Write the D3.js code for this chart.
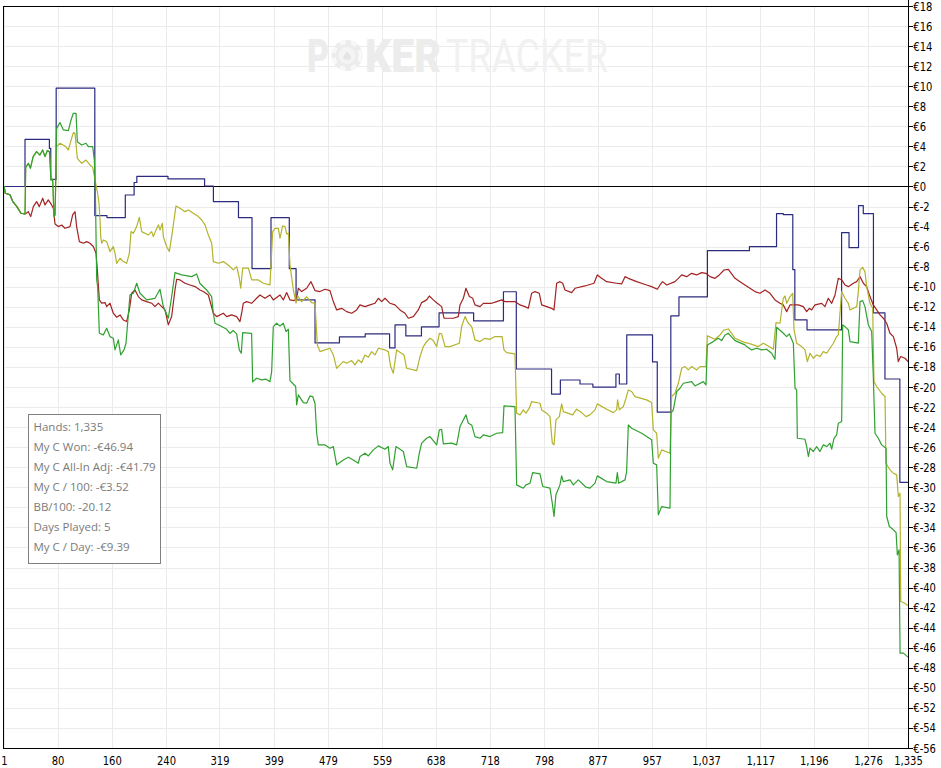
<!DOCTYPE html>
<html>
<head>
<meta charset="utf-8">
<script src="https://cdn.jsdelivr.net/npm/d3@7"></script>
<style>
  html, body { margin: 0; padding: 0; background: #fff; }
  svg { display: block; }
  .axis text { font-family: "DejaVu Sans", sans-serif; font-size: 12.5px; fill: #000; }
  .axis path, .axis line { stroke: #000; shape-rendering: crispEdges; }
  .grid line { stroke: #ebebeb; shape-rendering: crispEdges; }
  .series { fill: none; stroke-width: 1.2; stroke-linejoin: round; }
  .stats text { font-family: "Open Sans", "Noto Sans", sans-serif; font-size: 11.5px; fill: #7a7a7a; }
  .wm { font-family: Roboto, "Open Sans", sans-serif; font-size: 46px; }
</style>
</head>
<body>
<svg id="chart" width="941" height="768"></svg>
<script>
// hands axis
const handTicks = [1, 80, 160, 240, 319, 399, 479, 559, 638, 718, 798, 877, 957, 1037, 1117, 1196, 1276, 1335]
const moneyTicks = d3.range(-56, 19, 2)

// summary box
const statLines = [
  'Hands: 1,335',
  'My C Won: -€46.94',
  'My C All-In Adj: -€41.79',
  'My C / 100: -€3.52',
  'BB/100: -20.12',
  'Days Played: 5',
  'My C / Day: -€9.39'
]

// [hand, €]
const blueSeries = [
  [1,0],[32,4.7],[68,3.8],[70,0.7],[78,9.8],[135,-2.9],[153,-3.1],[180,-0.85],[193,0.4],[197,1.0],
  [243,0.75],[297,0.05],[310,-1.5],[347,-3.1],[367,-8.2],[395,-3.1],[422,-8.2],[432,-11.3],[460,-15.6],
  [496,-15.0],[534,-14.7],[570,-16.1],[578,-13.8],[594,-14.9],[617,-14.0],[643,-12.6],[694,-13.4],
  [738,-10.5],[757,-18.2],[809,-20.7],[822,-19.3],[851,-19.7],[870,-20.0],[904,-18.7],[909,-19.7],
  [920,-14.8],[958,-17.5],[965,-22.5],[985,-12.9],[997,-11.0],[1039,-6.4],[1101,-6.0],[1141,-2.7],
  [1151,-2.8],[1165,-8.3],[1168,-13.3],[1186,-14.3],[1237,-4.6],[1248,-6.1],[1262,-1.9],[1269,-2.7],
  [1284,-12.6],[1301,-19.2],[1323,-29.5],[1335,-29.5]
]

const greenSeries = [
  [1,0],[3,-0.68],[10,-0.84],[14,-1.51],[20,-2.01],[26,-2.67],[32,-2.74],[33,1.91],[37,2.31],[40,1.81],
  [44,2.98],[49,3.48],[54,3.14],[58,3.64],[61.5,2.98],[65,3.58],[68,3.48],[70.4,0.65],[72.8,0.72],
  [74.8,-3.0],[76.3,-2.84],[78.7,5.8],[83.6,6.37],[88.6,5.64],[96,5.57],[99.9,6.63],[103.3,7.3],
  [107.3,7.3],[109.2,4.47],[115.6,4.14],[122,4.31],[125.5,3.97],[131.9,3.97],[134.3,2.64],[135.8,-0.35],
  [137.8,-9.32],[139.2,-9.98],[141.7,-14.63],[147.6,-14.8],[152.5,-14.14],[157.4,-14.97],[162.3,-15.13],
  [164.8,-16.3],[169.7,-15.3],[173.2,-16.79],[178.1,-16.3],[181,-15.63],[186.9,-10.81],[191.9,-10.65],
  [196.8,-9.65],[201.7,-10.65],[211.5,-11.31],[223.8,-11.15],[231.2,-10.25],[236.1,-11.98],[243.5,-13.14],
  [248.4,-10.98],[253.3,-8.59],[263.2,-8.82],[278,-8.99],[285.3,-8.72],[290,-9.65],[300,-10.32],
  [307.4,-10.98],[309.9,-12.64],[312.3,-13.64],[322.2,-13.97],[329.6,-14.24],[334.5,-14.64],[339.4,-14.37],
  [344.3,-14.7],[348.2,-16.3],[351.2,-16.63],[353.2,-14.57],[366.4,-14.64],[367.9,-19.49],[373.8,-19.12],
  [381.2,-19.29],[387.6,-19.22],[393.5,-19.46],[396,-18.46],[398.4,-13.97],[403.3,-13.64],[408.3,-13.91],
  [413.2,-13.64],[417.1,-14.47],[420.6,-14.24],[423,-19.36],[431.4,-19.95],[432.9,-21.78],[435.3,-20.79],
  [442.7,-21.55],[447.6,-21.62],[452.5,-20.89],[456.5,-20.95],[459.9,-21.62],[462.4,-24.61],[464.8,-25.77],
  [474.7,-25.77],[482,-26.1],[487,-25.94],[491.9,-27.76],[501.7,-27.27],[509.1,-27.0],[516.5,-27.27],
  [523.9,-27.6],[526.3,-26.93],[533.7,-26.6],[538.6,-26.87],[546,-26.27],[553.4,-25.87],[563.2,-26.2],
  [568.1,-25.94],[570.6,-27.6],[574.5,-28.26],[579.4,-25.94],[590.3,-26.43],[595.2,-27.93],[610,-28.1],
  [613.9,-26.6],[617.3,-25.6],[624.7,-25.11],[629.6,-24.94],[639.5,-25.77],[643.4,-24.27],[646.8,-24.21],
  [649.3,-25.67],[661.6,-25.6],[669,-25.77],[673.9,-23.94],[678.8,-23.28],[682.7,-22.78],[686.2,-23.61],
  [691.1,-23.78],[696,-24.94],[703.4,-25.11],[708.3,-24.77],[718.2,-24.94],[728,-24.61],[736.9,-24.54],
  [738.8,-21.88],[755,-21.95],[757.5,-29.76],[767.3,-30.09],[771.3,-29.76],[777.2,-29.59],[781.1,-28.53],
  [791.9,-28.66],[795.9,-29.92],[806.7,-30.09],[810.1,-31.59],[812.6,-32.91],[815.5,-30.75],[821.4,-29.76],
  [823.9,-28.86],[826.4,-29.43],[836.2,-29.26],[841.1,-29.76],[848.5,-29.26],[859.8,-29.99],[865.7,-30.09],
  [873.1,-29.59],[876.5,-28.86],[890.3,-29.43],[904.1,-29.59],[906.1,-28.53],[908,-29.59],[917.4,-29.26],
  [919.8,-28.43],[922.3,-23.78],[927.2,-24.11],[942,-24.61],[956.7,-25.27],[959.2,-27.6],[964.1,-27.76],
  [966.6,-32.75],[971.5,-31.92],[983.8,-32.08],[985.2,-22.61],[988.7,-22.28],[993.6,-20.45],[998.5,-20.12],
  [1003.5,-19.62],[1015.7,-19.46],[1020.7,-19.89],[1033,-19.46],[1036.9,-19.79],[1038.9,-15.8],
  [1047.7,-15.47],[1055.1,-15.14],[1060,-15.37],[1065,-14.81],[1069.9,-14.64],[1079.7,-15.37],
  [1094.4,-15.8],[1096.9,-15.97],[1104.3,-16.3],[1111.7,-16.13],[1119.1,-16.3],[1126.4,-16.23],
  [1133.8,-16.63],[1138.7,-17.23],[1141.2,-14.04],[1151,-14.64],[1156,-14.97],[1159.9,-14.7],
  [1165.8,-15.63],[1168.3,-20.12],[1170.7,-20.29],[1171.7,-25.11],[1183,-25.21],[1185.5,-25.94],
  [1188,-26.93],[1190.4,-26.1],[1195.3,-26.43],[1200.2,-25.94],[1205.1,-26.43],[1210,-25.77],[1215,-25.94],
  [1219.9,-25.6],[1222.4,-26.2],[1225.8,-25.11],[1229.7,-24.77],[1232.2,-23.61],[1237.1,-23.44],
  [1238.6,-13.81],[1242,-13.97],[1247,-14.3],[1249.4,-15.47],[1261.7,-15.63],[1264.2,-11.48],
  [1268.1,-11.38],[1271.5,-11.98],[1276.5,-13.81],[1281.4,-14.47],[1283.8,-18.96],[1286.3,-24.61],
  [1291.2,-25.11],[1296.1,-25.77],[1302.6,-26.1],[1303.6,-32.91],[1307.5,-33.91],[1313.4,-34.24],
  [1317.4,-34.51],[1319.3,-36.74],[1321.8,-36.24],[1323.3,-46.54],[1328.2,-46.54],[1335,-46.94]
]

const yellowSeries = [
  [1,0],[3,-0.68],[10,-0.84],[14,-1.51],[20,-2.01],[26,-2.67],[32,-2.74],[33,1.91],[37,2.31],[40,1.81],
  [44,2.98],[49,3.48],[54,3.14],[58,3.64],[61.5,2.98],[65,3.58],[68,3.48],[70.4,0.65],[72.8,0.72],
  [74.8,-3.0],[76.3,-2.84],[78.7,3.97],[83.6,4.31],[91,4.04],[96,3.64],[99.4,4.47],[103.3,5.37],
  [105.8,5.3],[109.2,2.81],[115.6,2.31],[122,2.64],[127.9,2.15],[131.9,1.91],[135.3,0.65],[138.7,-0.51],
  [141.2,-1.67],[142.7,-3.34],[143.7,-5.0],[145.1,-5.66],[147.6,-5.33],[152.5,-5.5],[157.4,-6.49],
  [162.3,-5.99],[164.8,-6.66],[167.3,-7.66],[172.2,-7.16],[177.1,-7.49],[182,-7.66],[186,-6.66],
  [188.4,-4.5],[191.9,-4.67],[196.8,-4.0],[200.7,-3.07],[204.2,-4.5],[214,-4.83],[218.9,-4.5],[221.4,-5.0],
  [225.3,-4.33],[228.8,-3.83],[231.2,-4.33],[234.7,-3.67],[236.1,-5.0],[241,-5.99],[245,-6.49],[248.4,-5.0],
  [251.9,-3.34],[254.8,-1.94],[260.7,-2.17],[268.1,-2.51],[273,-2.34],[280.4,-2.67],[287.8,-3.0],
  [292.7,-3.34],[297.6,-3.83],[302.5,-4.83],[307.5,-5.66],[309.9,-7.49],[317.3,-7.66],[324.7,-7.49],
  [334.5,-7.99],[339.4,-8.32],[344.4,-7.99],[348.3,-9.15],[350.3,-10.15],[353.2,-8.15],[361.6,-8.15],
  [366.5,-9.32],[376.3,-9.32],[383.7,-9.65],[393.5,-9.82],[397.5,-4.5],[400.9,-4.17],[405.8,-4.17],
  [408.3,-5.16],[412.2,-3.93],[415.7,-4.0],[418.1,-4.73],[420.6,-4.67],[423,-7.82],[428,-10.32],
  [431.9,-11.64],[434.3,-10.9],[440,-11.5],[447.6,-11.0],[455,-11.58],[459.9,-11.65],[463.4,-15.8],
  [467.3,-16.47],[474.7,-16.3],[482,-16.13],[487,-16.8],[491.9,-18.13],[496.8,-17.79],[501.7,-17.46],
  [506.6,-17.63],[514,-17.36],[518.9,-17.79],[523.9,-17.3],[528.8,-17.56],[533.7,-16.8],[538.6,-17.03],
  [543.5,-16.47],[548.4,-16.8],[553.4,-16.13],[563.2,-16.3],[568.1,-16.47],[571.6,-17.96],[575.5,-18.63],
  [580.4,-16.3],[591.2,-16.8],[595.2,-18.13],[610,-18.36],[614.9,-16.96],[619.8,-15.97],[624.7,-15.47],
  [629.6,-15.14],[634.5,-15.37],[639.5,-15.97],[643.4,-14.64],[646.8,-14.7],[651.8,-15.97],[659.1,-15.97],
  [672.9,-15.63],[676.3,-13.97],[681.3,-12.98],[686.2,-13.64],[691.1,-13.97],[696,-15.3],[703.4,-15.47],
  [710.8,-15.14],[718.2,-15.24],[725.5,-14.97],[736,-14.97],[738.8,-16.3],[742.7,-16.57],[755,-16.7],
  [757.5,-22.61],[762.4,-22.78],[767.3,-22.28],[771.3,-22.61],[776.2,-22.11],[779.6,-21.45],[791.9,-21.62],
  [794.4,-22.28],[801.8,-22.61],[806.7,-22.95],[810.1,-25.6],[812.6,-25.77],[815.5,-23.28],[820.5,-22.95],
  [823.9,-21.68],[826.4,-22.45],[840.1,-22.78],[846,-22.21],[853.4,-22.55],[859.8,-22.95],[865.7,-22.78],
  [873.1,-22.28],[876.5,-21.68],[890.3,-22.21],[900.1,-22.55],[905,-22.28],[906.5,-21.28],[909,-22.28],
  [914.9,-21.95],[918.8,-21.12],[922.3,-20.29],[927.2,-20.45],[932.1,-20.95],[949.3,-21.28],[956.7,-21.55],
  [959.2,-24.28],[964.1,-24.61],[966.6,-27.1],[971.5,-26.27],[983.8,-26.6],[986.2,-20.95],[991.1,-20.62],
  [996.1,-19.62],[1001,-18.13],[1005.9,-17.96],[1010.8,-18.29],[1015.7,-17.96],[1023.1,-18.29],
  [1028,-17.96],[1036.9,-17.96],[1038.9,-14.9],[1050.2,-15.24],[1057.6,-14.81],[1063.5,-14.31],
  [1069.9,-14.21],[1074.8,-14.64],[1079.7,-15.14],[1094.4,-15.57],[1099.4,-15.63],[1106.8,-15.8],
  [1114.1,-15.97],[1121.5,-15.63],[1128.9,-15.9],[1136.3,-16.23],[1140.2,-13.57],[1146.1,-13.64],
  [1151,-11.15],[1153.5,-10.92],[1156,-11.65],[1160.9,-10.98],[1164.8,-10.65],[1166.8,-14.31],
  [1170.7,-15.63],[1178.1,-15.97],[1183,-16.3],[1186.5,-17.46],[1190.4,-16.63],[1195.3,-17.13],
  [1200.2,-16.8],[1205.1,-16.96],[1210,-16.47],[1215,-16.63],[1219.9,-16.13],[1224.8,-15.63],
  [1229.7,-14.97],[1232.2,-14.8],[1237.1,-10.48],[1242,-11.15],[1247,-11.65],[1249.4,-12.31],
  [1259.3,-11.98],[1261.7,-10.48],[1264.2,-8.32],[1268.1,-8.06],[1271.5,-8.49],[1274,-9.99],
  [1278.9,-11.65],[1282.9,-12.15],[1284.8,-19.46],[1288.8,-19.95],[1296.1,-20.62],[1301.1,-20.95],
  [1302.5,-27.6],[1308.4,-28.26],[1313.4,-28.59],[1318.3,-28.76],[1320.7,-30.92],[1323.2,-30.59],
  [1324.3,-41.39],[1328.2,-41.49],[1335,-41.79]
]

const redSeries = [
  [1,0],[3,-0.68],[10,-0.84],[14,-1.51],[20,-2.01],[26,-2.67],[32,-2.74],[36.9,-2.51],[40.4,-3.0],
  [44.3,-2.01],[49.2,-1.51],[53.1,-2.01],[58.1,-1.18],[61.5,-1.84],[66.4,-1.34],[71.3,-1.84],[73.8,-2.17],
  [76.3,-3.74],[81.2,-4.0],[86.1,-3.84],[91,-4.17],[98.4,-4.0],[102.3,-2.84],[105.8,-2.51],[108.2,-4.0],
  [112.2,-5.5],[118.1,-5.66],[123,-5.5],[127.9,-5.66],[132.8,-5.99],[136.8,-6.66],[138.7,-8.32],
  [141.7,-11.31],[145.1,-11.64],[150.1,-11.58],[152.5,-11.98],[157.4,-11.64],[162.3,-12.64],[167.3,-13.04],
  [172.2,-12.81],[177.1,-13.31],[182,-13.47],[186,-12.31],[189.4,-10.65],[194.3,-10.32],[199.2,-10.98],
  [204.2,-11.31],[211.5,-11.48],[218.9,-11.64],[223.8,-11.98],[228.8,-11.64],[233.7,-11.98],[238.6,-12.31],
  [243.5,-13.8],[248.4,-12.97],[253.3,-10.32],[255.8,-9.25],[260.7,-9.32],[268.1,-9.65],[275.5,-9.82],
  [282.9,-9.98],[290.2,-10.32],[295.1,-10.48],[302.5,-10.82],[309.9,-12.64],[314.8,-12.98],[324.6,-12.64],
  [329.6,-12.98],[336.9,-12.81],[344.3,-12.98],[349.2,-13.47],[351.7,-12.64],[354.1,-11.65],[359.1,-11.48],
  [366.4,-11.65],[373.8,-11.15],[378.7,-10.82],[386.1,-11.15],[393.5,-10.82],[398.4,-11.31],[408.3,-10.82],
  [413.2,-11.31],[418.1,-10.58],[423,-11.31],[428.9,-11.38],[432.9,-11.15],[435.3,-10.15],[440.2,-10.48],
  [447.6,-10.15],[454,-9.49],[459.9,-10.38],[467.3,-10.48],[474.7,-10.25],[482,-10.38],[487,-11.48],
  [491.9,-12.31],[499.3,-12.15],[506.6,-12.48],[514,-12.64],[521.4,-12.31],[526.3,-11.81],[533.7,-11.98],
  [541.1,-11.81],[548.4,-11.65],[553.4,-11.15],[558.3,-11.48],[563.2,-11.15],[570.6,-11.65],[578,-11.81],
  [585.3,-12.31],[592.7,-12.64],[597.6,-13.14],[605,-12.98],[612.4,-12.31],[617.3,-11.58],[624.7,-11.31],
  [628.6,-10.92],[634.5,-11.31],[640.4,-11.65],[646.8,-11.98],[650.3,-13.14],[664,-13.14],[671.4,-12.98],
  [673.9,-11.81],[678.8,-11.15],[682.7,-10.15],[687.7,-10.98],[692.6,-11.15],[696,-11.81],[703.4,-11.98],
  [708.3,-11.65],[720.6,-11.65],[728,-11.48],[735.4,-11.31],[740.3,-11.48],[755,-11.48],[762.4,-11.81],
  [769.8,-11.98],[774.7,-12.15],[779.6,-10.65],[784.5,-10.48],[790.9,-10.65],[794.4,-11.81],[801.8,-11.98],
  [809.1,-12.15],[812.6,-12.31],[816.5,-9.65],[821.4,-9.49],[825.4,-9.65],[828.8,-10.32],[838.7,-10.58],
  [843.6,-10.15],[858.3,-9.92],[871.6,-9.65],[876.5,-8.82],[882.9,-9.16],[890.3,-9.49],[905.1,-9.65],
  [912.4,-9.72],[917.4,-8.99],[922.3,-9.16],[934.6,-9.49],[949.3,-9.82],[956.7,-9.99],[965.1,-10.25],
  [969,-9.82],[972.9,-9.49],[978.9,-9.82],[991.1,-9.49],[996.1,-9.16],[1001,-8.82],[1008.4,-8.99],
  [1015.7,-8.66],[1023.1,-8.82],[1030.5,-8.59],[1036.9,-8.66],[1042.8,-8.99],[1050.2,-9.16],[1056.6,-8.82],
  [1063.5,-8.33],[1069.9,-8.26],[1074.8,-8.72],[1079.7,-9.16],[1087.1,-9.49],[1094.4,-9.82],[1101.8,-10.15],
  [1109.2,-10.48],[1116.6,-10.65],[1124,-10.32],[1131.4,-10.65],[1138.7,-11.31],[1146.1,-11.65],
  [1151,-11.81],[1156,-12.48],[1160.9,-11.81],[1173.2,-11.81],[1180.5,-11.98],[1185.5,-12.48],
  [1189.4,-12.15],[1192.8,-12.31],[1197.8,-11.81],[1207.6,-11.65],[1212.5,-11.98],[1217.4,-11.15],
  [1222.4,-11.65],[1227.3,-10.82],[1232.2,-9.15],[1237.1,-9.32],[1242,-9.82],[1247,-9.99],[1254.3,-9.65],
  [1259.3,-9.49],[1264.2,-8.99],[1269.1,-9.65],[1274,-9.99],[1278.9,-10.98],[1283.8,-11.81],[1288.8,-12.31],
  [1293.7,-12.81],[1298.6,-13.14],[1303.5,-13.64],[1308.4,-14.64],[1313.4,-14.97],[1318.3,-16.13],
  [1320.7,-17.46],[1324.2,-16.96],[1330.6,-17.13],[1335,-17.46]
]

const seriesList = [
  { name: 'blue', points: blueSeries, color: '#2b2b7f', curve: d3.curveStepAfter },
  { name: 'red', points: redSeries, color: '#a32222', curve: d3.curveLinear },
  { name: 'yellow', points: yellowSeries, color: '#b3b32c', curve: d3.curveLinear },
  { name: 'green', points: greenSeries, color: '#30a030', curve: d3.curveLinear }
]

const svg = d3.select('#chart')
const plot = { left: 4, top: 6, right: 908, bottom: 748 }

const x = d3.scaleLinear().domain([1, 1335]).range([plot.left, plot.right])
const y = d3.scaleLinear().domain([-56, 18]).range([plot.bottom, plot.top])

const fmtMoney = (v) => v < 0 ? '€-' + Math.abs(v) : '€' + v
const fmtHands = d3.format(',')

// grid
const grid = svg.append('g').attr('class', 'grid')
grid.selectAll('.h').data(moneyTicks).join('line')
  .attr('x1', plot.left).attr('x2', plot.right)
  .attr('y1', (d) => Math.round(y(d)) + 0.5).attr('y2', (d) => Math.round(y(d)) + 0.5)
grid.selectAll('.v').data(handTicks).join('line')
  .attr('y1', plot.top).attr('y2', plot.bottom)
  .attr('x1', (d) => Math.round(x(d)) + 0.5).attr('x2', (d) => Math.round(x(d)) + 0.5)

// watermark, letters squeezed to the widths seen in the picture
const wm = svg.append('g').attr('class', 'wm')
wm.append('text').text('P').attr('x', 307).attr('y', 72)
  .attr('font-weight', 900).attr('fill', '#ececec')
  .attr('textLength', 22).attr('lengthAdjust', 'spacingAndGlyphs')
const chip = wm.append('g').attr('transform', 'translate(347,55.5)')
chip.append('circle').attr('r', 15.5).attr('fill', '#ececec')
chip.append('circle').attr('r', 13.5).attr('fill', 'none').attr('stroke', '#f8f8f8')
  .attr('stroke-width', 4).attr('stroke-dasharray', '6 5.2')
chip.append('circle').attr('r', 8.5).attr('fill', '#f4f4f4')
chip.append('text').text('♠').attr('text-anchor', 'middle').attr('y', 5)
  .attr('font-size', 13).attr('fill', '#e4e4e4').attr('font-family', '"DejaVu Sans", sans-serif')
wm.append('text').text('KER').attr('x', 365).attr('y', 72)
  .attr('font-weight', 900).attr('fill', '#ececec')
  .attr('textLength', 76).attr('lengthAdjust', 'spacingAndGlyphs')
wm.append('text').text('TRACKER').attr('x', 446).attr('y', 72)
  .attr('font-weight', 400).attr('fill', '#f1f1f1')
  .attr('textLength', 162).attr('lengthAdjust', 'spacingAndGlyphs')

// zero line
svg.append('line')
  .attr('x1', plot.left).attr('x2', plot.right)
  .attr('y1', Math.round(y(0)) + 0.5).attr('y2', Math.round(y(0)) + 0.5)
  .attr('stroke', '#000').attr('shape-rendering', 'crispEdges')

// lines
const line = d3.line().x((d) => x(d[0])).y((d) => y(d[1]))
svg.selectAll('.series').data(seriesList).join('path')
  .attr('class', 'series')
  .attr('stroke', (s) => s.color)
  .attr('d', (s) => line.curve(s.curve)(s.points))

// frame
svg.append('path')
  .attr('d', `M${plot.right + 0.5},${plot.top + 0.5}H${plot.left - 0.5}V${plot.bottom + 0.5}H${plot.right + 0.5}`)
  .attr('fill', 'none').attr('stroke', '#000').attr('shape-rendering', 'crispEdges')

// axes; the reference uses a narrow face, so squeeze the labels horizontally
const narrow = (g) => g.selectAll('text').attr('transform', 'scale(0.8,1)')

svg.append('g').attr('class', 'axis')
  .attr('transform', `translate(${plot.right + 0.5},0)`)
  .call(d3.axisRight(y).tickValues(moneyTicks).tickFormat(fmtMoney).tickSize(4).tickSizeOuter(0).tickPadding(2))
  .call((g) => g.select('.domain').attr('d', `M0,0V${plot.bottom + 1}`))
  .call(narrow)

svg.append('g').attr('class', 'axis')
  .attr('transform', `translate(0,${plot.bottom + 0.5})`)
  .call(d3.axisBottom(x).tickValues(handTicks).tickFormat(fmtHands).tickSize(0).tickPadding(8))
  .call((g) => g.select('.domain').remove())
  .call(narrow)

// stats box
const stats = svg.append('g').attr('class', 'stats').attr('transform', 'translate(28.5,414.5)')
stats.append('rect').attr('width', 132).attr('height', 149)
  .attr('fill', '#fff').attr('stroke', '#808080')
stats.selectAll('text').data(statLines).join('text')
  .attr('x', 5).attr('y', (d, i) => 16 + i * 20)
  .text((d) => d)
</script>
</body>
</html>
